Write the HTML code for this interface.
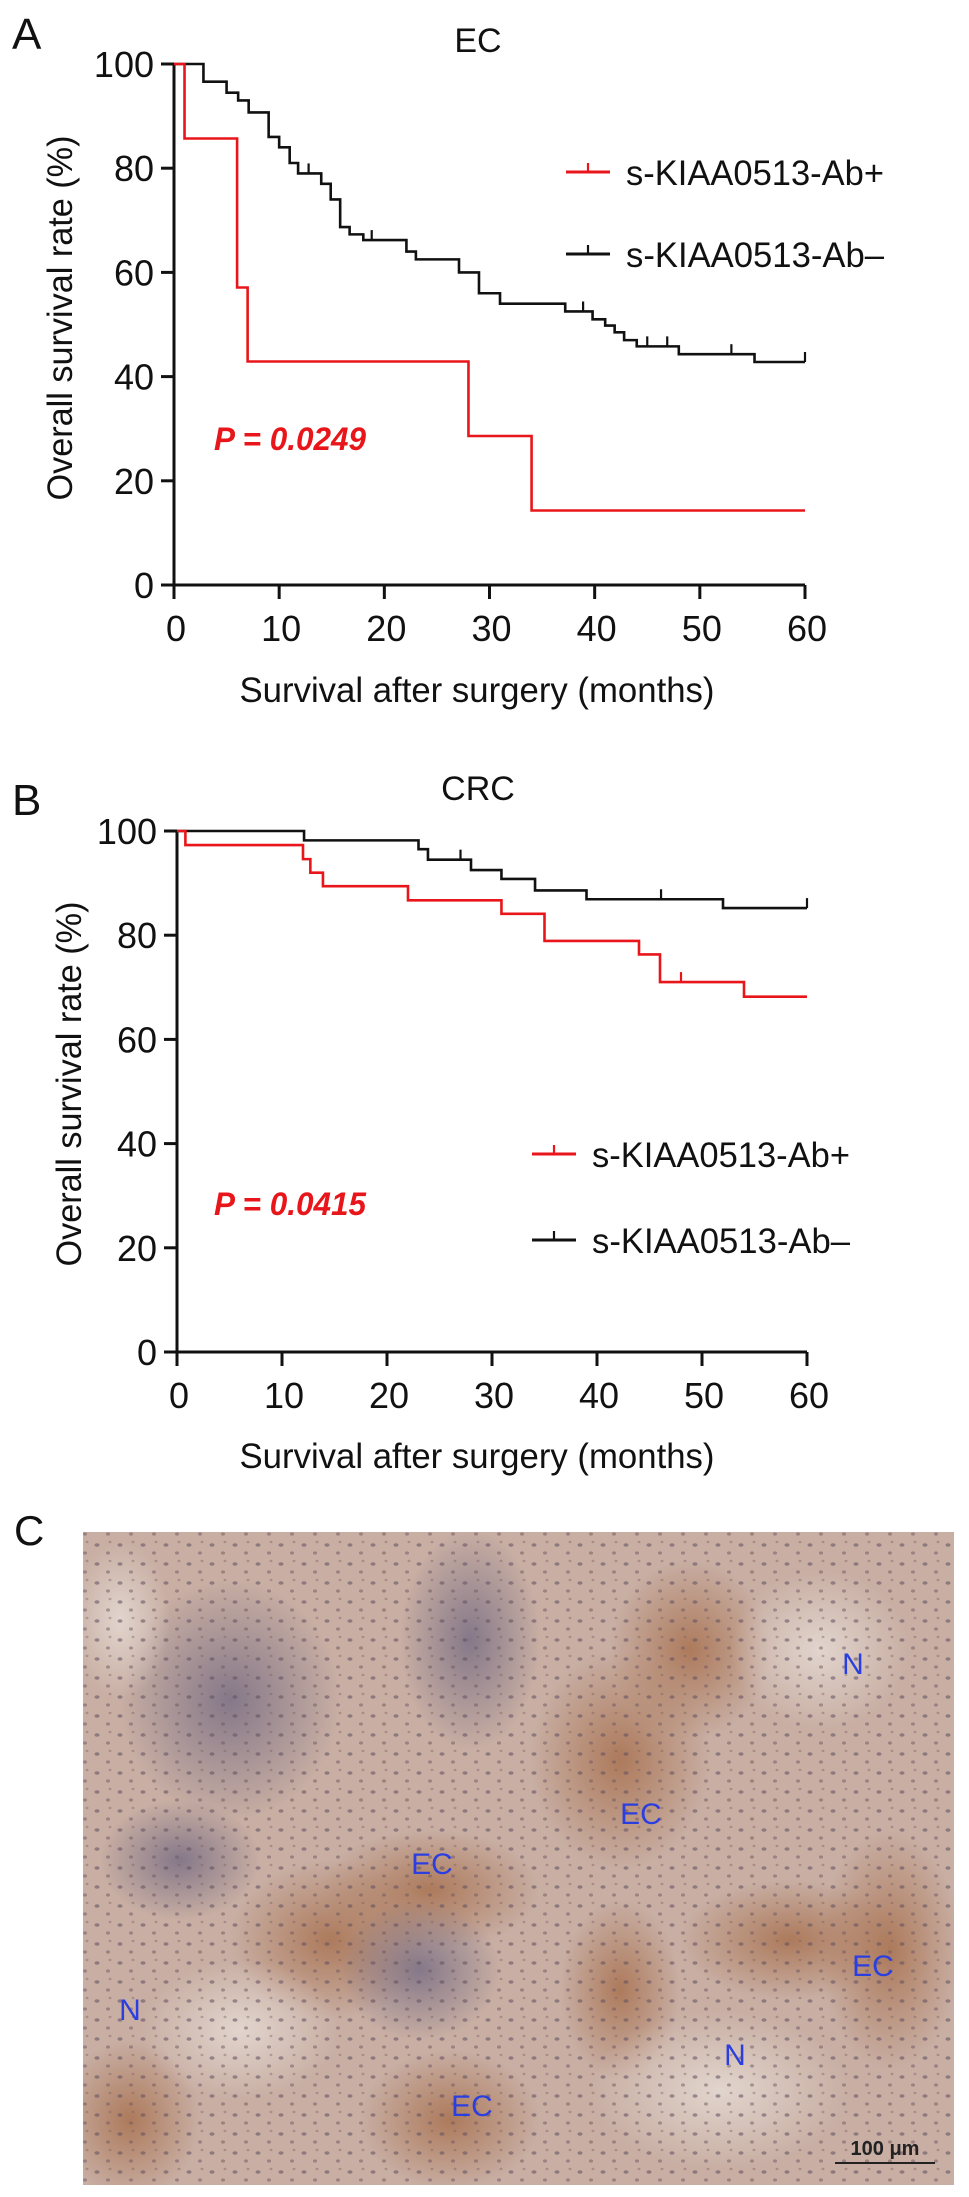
<!DOCTYPE html>
<html><head><meta charset="utf-8">
<style>
html,body{margin:0;padding:0;background:#fff;}
svg{display:block;font-family:"Liberation Sans",Arial,sans-serif;}
</style></head>
<body>
<svg id="fig" width="969" height="2197" viewBox="0 0 969 2197" xmlns="http://www.w3.org/2000/svg">
<defs>
<clipPath id="imgClip"><rect x="83" y="1532" width="871" height="653"/></clipPath>
<radialGradient id="gBrown" cx="50%" cy="50%" r="50%"><stop offset="0%" stop-color="#a8714f" stop-opacity="0.85"/><stop offset="100%" stop-color="#a8714f" stop-opacity="0"/></radialGradient>
<radialGradient id="gBlue" cx="50%" cy="50%" r="50%"><stop offset="0%" stop-color="#6f6680" stop-opacity="0.75"/><stop offset="100%" stop-color="#6f6680" stop-opacity="0"/></radialGradient>
<radialGradient id="gLight" cx="50%" cy="50%" r="50%"><stop offset="0%" stop-color="#e4d9d2" stop-opacity="0.9"/><stop offset="100%" stop-color="#e4d9d2" stop-opacity="0"/></radialGradient>
<pattern id="nuclei" width="23" height="19" patternUnits="userSpaceOnUse"><ellipse cx="5" cy="6" rx="2.5" ry="1.8" fill="#5f4f5e" opacity="0.55"/><ellipse cx="16" cy="14" rx="2" ry="1.6" fill="#6b5560" opacity="0.5"/><ellipse cx="18" cy="3" rx="1.5" ry="1.2" fill="#7a5d5a" opacity="0.4"/></pattern>
</defs>
<g id="panelA"></g>
<g id="panelB"></g>
<g id="panelC">
  <text x="14" y="1545" font-size="42" fill="#111">C</text>
  <g clip-path="url(#imgClip)">
    <rect x="83" y="1532" width="871" height="653" fill="#c8aea3"/>
    <ellipse cx="230" cy="1700" rx="110" ry="120" fill="url(#gBlue)"/>
    <ellipse cx="470" cy="1640" rx="70" ry="110" fill="url(#gBlue)"/>
    <ellipse cx="330" cy="1940" rx="100" ry="80" fill="url(#gBrown)"/>
    <ellipse cx="430" cy="1890" rx="110" ry="60" fill="url(#gBrown)"/>
    <ellipse cx="620" cy="1760" rx="90" ry="110" fill="url(#gBrown)"/>
    <ellipse cx="690" cy="1650" rx="80" ry="90" fill="url(#gBrown)"/>
    <ellipse cx="620" cy="1990" rx="60" ry="90" fill="url(#gBrown)"/>
    <ellipse cx="790" cy="1940" rx="110" ry="60" fill="url(#gBrown)"/>
    <ellipse cx="890" cy="1950" rx="70" ry="120" fill="url(#gBrown)"/>
    <ellipse cx="450" cy="2120" rx="90" ry="70" fill="url(#gBrown)"/>
    <ellipse cx="130" cy="2120" rx="70" ry="80" fill="url(#gBrown)"/>
    <ellipse cx="420" cy="1970" rx="80" ry="70" fill="url(#gBlue)"/>
    <ellipse cx="180" cy="1860" rx="80" ry="60" fill="url(#gBlue)"/>
    <ellipse cx="820" cy="1650" rx="90" ry="80" fill="url(#gLight)"/>
    <ellipse cx="720" cy="2090" rx="130" ry="80" fill="url(#gLight)"/>
    <ellipse cx="240" cy="2030" rx="100" ry="70" fill="url(#gLight)"/>
    <ellipse cx="120" cy="1620" rx="50" ry="80" fill="url(#gLight)"/>
    <rect x="83" y="1532" width="871" height="653" fill="url(#nuclei)"/>
  </g>
  <g font-size="30" fill="#2b3fe0">
    <text x="853" y="1674" text-anchor="middle">N</text>
    <text x="641" y="1824" text-anchor="middle">EC</text>
    <text x="432" y="1874" text-anchor="middle">EC</text>
    <text x="130" y="2020" text-anchor="middle">N</text>
    <text x="873" y="1976" text-anchor="middle">EC</text>
    <text x="735" y="2065" text-anchor="middle">N</text>
    <text x="472" y="2116" text-anchor="middle">EC</text>
  </g>
  <g>
    <text x="885" y="2155" font-size="20" font-weight="bold" text-anchor="middle" fill="#222">100 μm</text>
    <line x1="835" y1="2163" x2="935" y2="2163" stroke="#222" stroke-width="2"/>
  </g>
</g>
</svg>
<script>
// ===== Panel A (EC) data =====
const aMonthsPos = [0, 1, 6, 7, 28, 34, 60];
const aSurvPos   = [100, 85.7, 57.1, 42.9, 28.6, 14.3, 14.3];
const aMonthsNeg = [0, 2.8, 5, 6.1, 7.1, 9, 10, 11, 11.8, 14, 14.9, 15.8, 16.7, 18, 22.1, 23, 27.1, 29, 31, 37.2, 39.8, 41, 41.9, 42.8, 44, 48, 55.2, 60];
const aSurvNeg   = [100, 96.6, 94.5, 93, 90.7, 86, 84, 81, 79, 77, 74, 68.7, 67.3, 66.2, 64, 62.5, 60, 56, 54, 52.5, 51, 49.8, 48.5, 47, 45.8, 44.3, 42.8, 42.8];
const aCensorNegX = [12.8, 18.8, 38.9, 45, 46.9, 53, 60];
const aCensorPosX = [];
// ===== Panel B (CRC) data =====
const bMonthsPos = [0, 0.8, 12, 12.7, 13.9, 22, 30.9, 35, 44, 46, 54, 60];
const bSurvPos   = [100, 97.3, 94.6, 92, 89.4, 86.7, 84.1, 78.9, 76.3, 71, 68.2, 68.2];
const bMonthsNeg = [0, 12.1, 23, 23.9, 28, 30.9, 34.1, 39, 52, 60];
const bSurvNeg   = [100, 98.2, 96.5, 94.5, 92.5, 90.8, 88.6, 86.9, 85.2, 85.2];
const bCensorNegX = [27, 46.1, 60];
const bCensorPosX = [48];
// ===== axes ticks =====
const xTicks = [0, 10, 20, 30, 40, 50, 60];
const yTicks = [0, 20, 40, 60, 80, 100];
const legendLabels = ["s-KIAA0513-Ab+", "s-KIAA0513-Ab\u2013"];

const NS = "http://www.w3.org/2000/svg";
function el(tag, attrs, parent, text) {
  const e = document.createElementNS(NS, tag);
  for (const k in attrs) e.setAttribute(k, attrs[k]);
  if (text !== undefined) e.textContent = text;
  parent.appendChild(e);
  return e;
}
function stepValue(xs, ys, m) {
  let v = ys[0];
  for (let i = 0; i < xs.length; i++) if (xs[i] <= m) v = ys[i];
  return v;
}
function drawPanel(g, cfg) {
  const sx = m => cfg.x0 + (cfg.x1 - cfg.x0) * m / 60;
  const sy = v => cfg.y0 + (cfg.y100 - cfg.y0) * v / 100;
  const pl = el("text", {x: cfg.letterX, y: cfg.letterY, "font-size": 44, fill: "#111"}, g, cfg.letter);
  
  
  const tt = el("text", {x: 478, y: cfg.titleY, "font-size": 34, "text-anchor": "middle", fill: "#111"}, g, cfg.title);
  
  
  const ax = el("g", {stroke: "#111", "stroke-width": 3, fill: "none"}, g);
  
  
  el("line", {x1: cfg.x0, y1: cfg.y100, x2: cfg.x0, y2: cfg.y0 + 1.5}, ax);
  el("line", {x1: cfg.x0 - 13, y1: cfg.y0, x2: cfg.x1, y2: cfg.y0}, ax);
  const yt = el("g", {"font-size": 36, fill: "#111", "text-anchor": "end"}, g);
  
  
  yTicks.forEach(v => {
    el("line", {x1: cfg.x0 - 13, y1: sy(v), x2: cfg.x0, y2: sy(v), stroke: "#111", "stroke-width": 3}, ax);
    const t = el("text", {x: cfg.x0 - 20, y: sy(v) + 13}, yt, String(v));
    
    
  });
  const xt = el("g", {"font-size": 36, fill: "#111", "text-anchor": "middle"}, g);
  
  
  xTicks.forEach(m => {
    el("line", {x1: sx(m), y1: cfg.y0, x2: sx(m), y2: cfg.y0 + 14, stroke: "#111", "stroke-width": 3}, ax);
    const t = el("text", {x: sx(m) + 2, y: cfg.y0 + 56}, xt, String(m));
    
    
  });
  const xtitle = el("text", {x: 477, y: cfg.xTitleY, "font-size": 35, "text-anchor": "middle", fill: "#111", textLength: 475, lengthAdjust: "spacingAndGlyphs"}, g, "Survival after surgery (months)");
  
  
  const ytitle = el("text", {x: 0, y: 0, "font-size": 35, "text-anchor": "middle", fill: "#111", textLength: 365, lengthAdjust: "spacingAndGlyphs", transform: `translate(${cfg.yTitleX},${cfg.yTitleY}) rotate(-90)`}, g, "Overall survival rate (%)");
  
  
  function curve(xs, ys, cens, color, name) {
    let d = `M${sx(xs[0])},${sy(ys[0])}`;
    for (let i = 1; i < xs.length; i++) {
      d += ` H${sx(xs[i])} V${sy(ys[i])}`;
    }
    const p = el("path", {d: d, stroke: color, "stroke-width": 2.6, fill: "none"}, g);
    
    
    cens.forEach(m => {
      const v = stepValue(xs, ys, m);
      const c = el("line", {x1: sx(m), y1: sy(v), x2: sx(m), y2: sy(v) - 10, stroke: color, "stroke-width": 2.2}, g);
      
      
    });
  }
  curve(cfg.negX, cfg.negY, cfg.negC, "#111", "curve-ab-negative");
  curve(cfg.posX, cfg.posY, cfg.posC, "#e8161b", "curve-ab-positive");
  const pv = el("text", {x: 214, y: cfg.pY, "font-size": 32, "font-weight": "bold", "font-style": "italic", fill: "#e8161b", textLength: 152, lengthAdjust: "spacingAndGlyphs"}, g, cfg.pText);
  
  
  const lg = el("g", {}, g);
  
  
  [["#e8161b", cfg.legY[0], legendLabels[0]], ["#111", cfg.legY[1], legendLabels[1]]].forEach(([col, y, lab]) => {
    const e = el("g", {}, lg);
    
    
    el("line", {x1: cfg.legX, y1: y, x2: cfg.legX + 44, y2: y, stroke: col, "stroke-width": 3}, e);
    el("line", {x1: cfg.legX + 22, y1: y, x2: cfg.legX + 22, y2: y - 9, stroke: col, "stroke-width": 2.2}, e);
    el("text", {x: cfg.legX + 60, y: y + 13, "font-size": 35, fill: "#111", textLength: 258, lengthAdjust: "spacingAndGlyphs"}, e, lab);
  });
}
drawPanel(document.getElementById("panelA"), {
  letter: "A", letterX: 12, letterY: 49, title: "EC", titleY: 52,
  x0: 174, x1: 805, y0: 585, y100: 64,
  xTitleY: 702, yTitleX: 72, yTitleY: 318,
  posX: aMonthsPos, posY: aSurvPos, posC: aCensorPosX,
  negX: aMonthsNeg, negY: aSurvNeg, negC: aCensorNegX,
  pText: "P = 0.0249", pY: 450, legX: 566, legY: [172, 254]
});
drawPanel(document.getElementById("panelB"), {
  letter: "B", letterX: 12, letterY: 815, title: "CRC", titleY: 800,
  x0: 177, x1: 807, y0: 1352, y100: 831,
  xTitleY: 1468, yTitleX: 81, yTitleY: 1084,
  posX: bMonthsPos, posY: bSurvPos, posC: bCensorPosX,
  negX: bMonthsNeg, negY: bSurvNeg, negC: bCensorNegX,
  pText: "P = 0.0415", pY: 1215, legX: 532, legY: [1154, 1240]
});
</script>
</body></html>
